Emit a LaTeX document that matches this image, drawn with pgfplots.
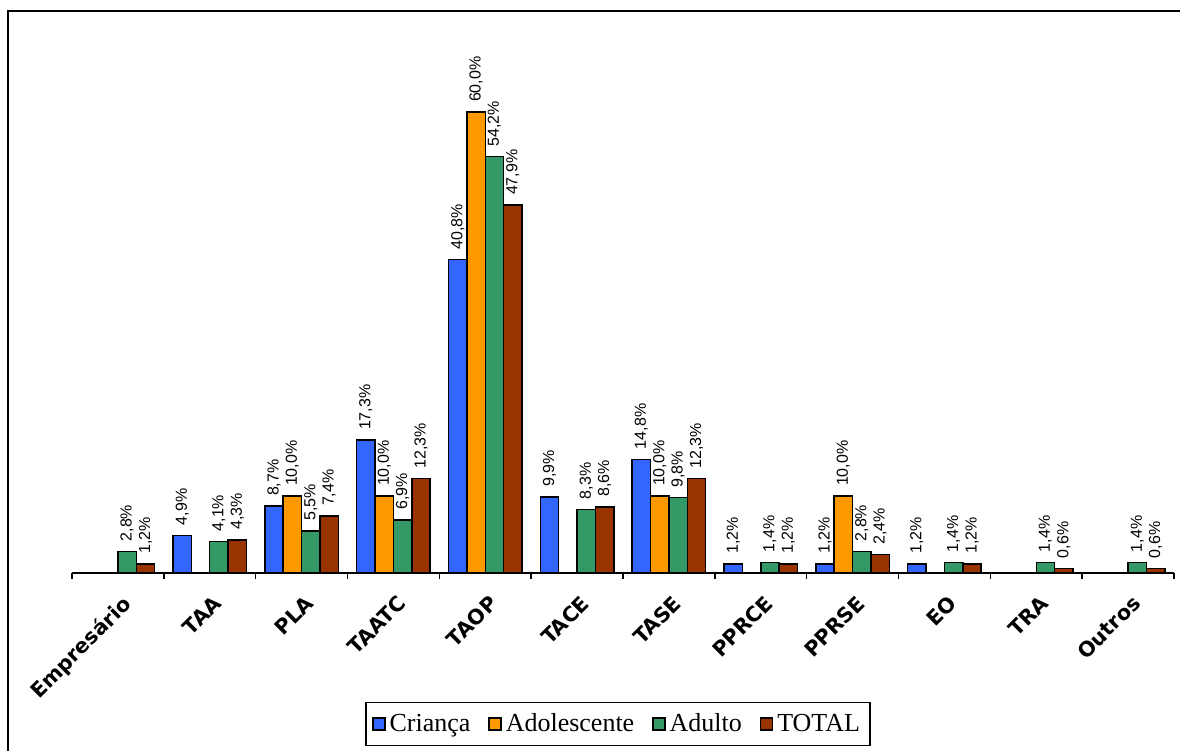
\documentclass[border=0pt]{standalone}
\usepackage{fontspec}
\usepackage{pgfplots}
\pgfplotsset{compat=1.18}
\setmainfont{Liberation Serif}
\newfontfamily\labelfont{Liberation Sans}
\newfontfamily\catfont{DejaVu Sans}

\definecolor{crianca}{HTML}{3366FF}
\definecolor{adolescente}{HTML}{FF9900}
\definecolor{adulto}{HTML}{339966}
\definecolor{total}{HTML}{993300}

\begin{document}
\begin{tikzpicture}
\useasboundingbox (0,0) rectangle (590pt,375.5pt);
% frame around the chart
\draw[line width=1pt] (4pt,0pt) -- (4pt,370pt) -- (590pt,370pt);
\begin{axis}[
  at={(36pt,89pt)}, anchor=south west,
  scale only axis, width=551pt, height=276.5pt,
  clip=false,
  ybar=0pt, bar width=0.2,
  xmin=-0.5, xmax=11.5, ymin=0, ymax=72,
  axis x line*=bottom, axis y line=none,
  x axis line style={black, line width=0.8pt, -},
  xtick={0,...,11},
  xticklabels={Empresário,TAA,PLA,TAATC,TAOP,TACE,TASE,PPRCE,PPRSE,EO,TRA,Outros},
  major tick length=0pt,
  minor xtick={-0.5,0.5,...,11.5},
  minor tick length=3pt,
  tick align=outside,
  minor tick style={black, line width=0.8pt},
  xticklabel style={rotate=45, anchor=north east, font=\catfont\bfseries\fontsize{10.3}{11}\selectfont, yshift=-5pt, xshift=-3pt},
  /pgf/number format/assume math mode=true,
  nodes near coords={\pgfmathprintnumber[fixed,fixed zerofill,precision=1,use comma]{\pgfplotspointmeta}\%},
  every node near coord/.append style={rotate=90, anchor=west, fill=white, text=black, inner sep=0.6pt, outer xsep=4.5pt, font=\labelfont\fontsize{8}{9}\selectfont},
  legend columns=4,
  legend style={at={(0.4955,-0.273)}, anchor=center, draw=black, line width=0.8pt,
    font=\fontsize{13}{15}\selectfont, inner xsep=3pt, inner ysep=3.5pt,
    /tikz/every even column/.style={column sep=7pt}},
  legend image code/.code={\draw[#1,draw=black,line width=0.7pt] (0pt,-3pt) rectangle (6pt,3pt);},
  every axis plot/.append style={draw=black, line width=0.75pt},
]
\addplot[fill=crianca] coordinates {(1,4.9) (2,8.7) (3,17.3) (4,40.8) (5,9.9) (6,14.8) (7,1.2) (8,1.2) (9,1.2)};
\addplot[fill=adolescente] coordinates {(2,10.0) (3,10.0) (4,60.0) (6,10.0) (8,10.0)};
\addplot[fill=adulto] coordinates {(0,2.8) (1,4.1) (2,5.5) (3,6.9) (4,54.2) (5,8.3) (6,9.8) (7,1.4) (8,2.8) (9,1.4) (10,1.4) (11,1.4)};
\addplot[fill=total] coordinates {(0,1.2) (1,4.3) (2,7.4) (3,12.3) (4,47.9) (5,8.6) (6,12.3) (7,1.2) (8,2.4) (9,1.2) (10,0.6) (11,0.6)};
\legend{Criança,Adolescente,Adulto,TOTAL}
\end{axis}
\end{tikzpicture}
\end{document}
